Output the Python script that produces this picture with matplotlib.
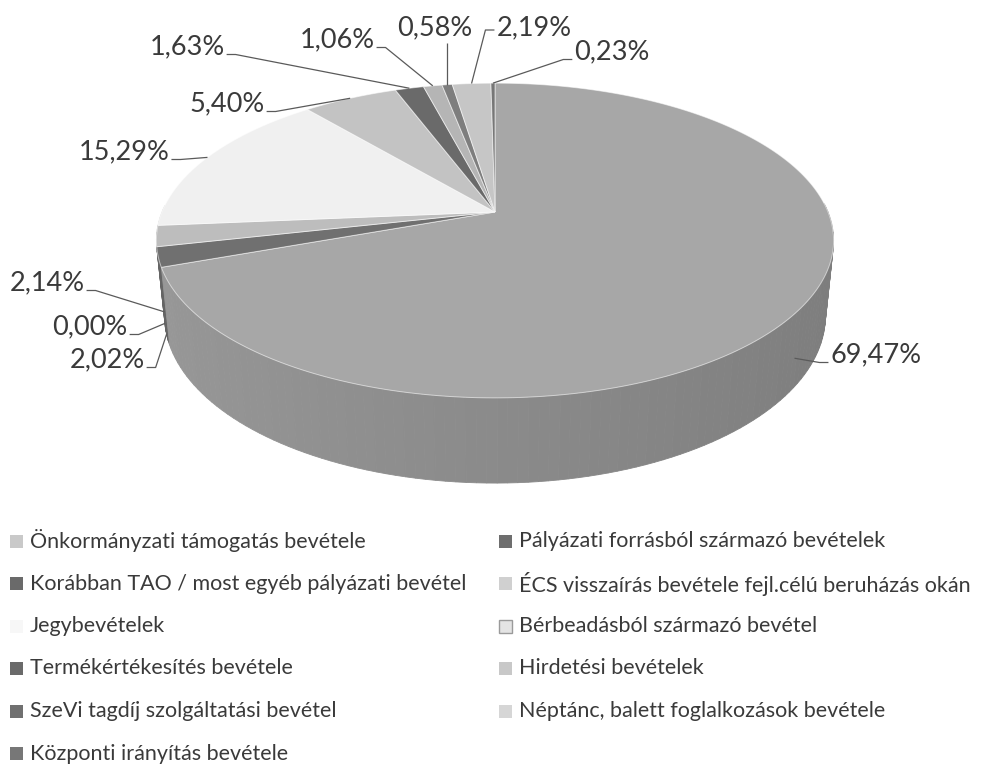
import numpy as np
import matplotlib
matplotlib.use("Agg")
import matplotlib.pyplot as plt
from matplotlib.patches import Polygon, Rectangle
from matplotlib.colors import to_rgb

plt.rcParams['font.family'] = ['Lato', 'DejaVu Sans']

# ---------------- data ----------------
categories = [
    "Önkormányzati támogatás bevétele",
    "Pályázati forrásból származó bevételek",
    "Korábban TAO / most egyéb pályázati bevétel",
    "ÉCS visszaírás bevétele fejl.célú beruházás okán",
    "Jegybevételek",
    "Bérbeadásból származó bevétel",
    "Termékértékesítés bevétele",
    "Hirdetési bevételek",
    "SzeVi tagdíj szolgáltatási bevétel",
    "Néptánc, balett foglalkozások bevétele",
    "Központi irányítás bevétele",
]
values = [69.47, 2.02, 0.00, 2.14, 15.29, 5.40, 1.63, 1.06, 0.58, 2.19, 0.23]
value_labels = ["69,47%", "2,02%", "0,00%", "2,14%", "15,29%", "5,40%",
                "1,63%", "1,06%", "0,58%", "2,19%", "0,23%"]
colors = ["#a7a7a7", "#707070", "#5c5c5c", "#bdbdbd", "#f0f0f0", "#c3c3c3",
          "#6a6a6a", "#b5b5b5", "#7e7e7e", "#c6c6c6", "#777777"]
legend_colors = ["#c9c9c9", "#6e6e6e", "#6a6a6a", "#d0d0d0", "#f7f7f7", "#e4e4e4",
                 "#6a6a6a", "#c8c8c8", "#707070", "#d6d6d6", "#777777"]

# ---------------- layout ----------------
W, H = 983, 764
fig = plt.figure(figsize=(W / 100, H / 100), dpi=100)
ax = fig.add_axes([0, 0, 1, 1])
ax.set_xlim(0, W)
ax.set_ylim(H, 0)
ax.axis("off")

# perspective projection of the 3D pie
elev = np.deg2rad(27.2)
dist = 4.91
focal = 1635.0
thick = 0.2575
cx, cy = 495.0, 212.0
se, ce = np.sin(elev), np.cos(elev)


def proj(X, Y, Z):
    yc = se * Y + ce * Z
    zc = ce * Y - se * Z + dist
    return cx + focal * X / zc, cy - focal * yc / zc, zc


vals = np.array(values)
frac = vals / vals.sum()
starts = np.concatenate([[0], np.cumsum(frac)[:-1]]) * 360.0
ends = starts + frac * 360.0


def phi(a_deg):
    return np.deg2rad(90.0 - a_deg)


def darker(c, f):
    r, g, b = to_rgb(c)
    return (r * f, g * f, b * f)


# side walls
segs = []
for i, (a0, a1) in enumerate(zip(starts, ends)):
    if a1 - a0 <= 0:
        continue
    n = max(2, int(np.ceil((a1 - a0) / 1.5)) + 1)
    angs = np.linspace(a0, a1, n)
    for k in range(n - 1):
        p0, p1 = phi(angs[k]), phi(angs[k + 1])
        pm = 0.5 * (p0 + p1)
        if np.sin(pm) > 0.05:
            continue
        pts = []
        for p, z in [(p0, 0), (p1, 0), (p1, -thick), (p0, -thick)]:
            x, y, _ = proj(np.cos(p), np.sin(p), z)
            pts.append((x, y))
        _, _, depth = proj(np.cos(pm), np.sin(pm), -thick / 2)
        shade = 0.83 - 0.08 * np.cos(pm)
        segs.append((depth, pts, darker(colors[i], shade)))

for depth, pts, col in sorted(segs, key=lambda s: -s[0]):
    ax.add_patch(Polygon(pts, closed=True, facecolor=col, edgecolor=col, lw=0.6))

# top faces
for i, (a0, a1) in enumerate(zip(starts, ends)):
    if a1 - a0 <= 0:
        continue
    n = max(2, int(np.ceil((a1 - a0) / 1.0)) + 1)
    angs = np.linspace(a0, a1, n)
    pts = [(cx, cy)]
    for a in angs:
        p = phi(a)
        x, y, _ = proj(np.cos(p), np.sin(p), 0)
        pts.append((x, y))
    ax.add_patch(Polygon(pts, closed=True, facecolor=colors[i],
                         edgecolor=(1, 1, 1, 0.55), lw=0.7))

# ---------------- data labels with leader lines ----------------
label_pos = [(876, 355), (107, 360), (90, 327), (47, 283), (124, 152), (227, 104),
             (187, 47), (337, 40), (435, 28), (534, 28), (612, 52)]
leader_side = ["left", "right", "right", "right", "right", "right",
               "right", "right", "bottom", "left", "left"]
anchor_depth = [0.6, 1.0, 1.0, 1.0, 0, 0, 0, 0, 0, 0, 0]

fig.canvas.draw()
renderer = fig.canvas.get_renderer()
inv = ax.transData.inverted()
text_color = "#3a3a3a"
line_color = "#5a5a5a"
for i in range(len(values)):
    tx, ty = label_pos[i]
    t = ax.text(tx, ty, value_labels[i], fontsize=19.5, color=text_color,
                ha="center", va="center")
    bb = t.get_window_extent(renderer).transformed(inv)
    x0, x1 = min(bb.x0, bb.x1), max(bb.x0, bb.x1)
    ybot = max(bb.y0, bb.y1)
    mid = 0.5 * (starts[i] + ends[i])
    p = phi(mid)
    axp, ayp, _ = proj(np.cos(p), np.sin(p), -thick * anchor_depth[i])
    side = leader_side[i]
    if side == "right":
        sx, sy = x1 + 2, ybot - 5
        path = [(sx, sy), (sx + 9, sy), (axp, ayp)]
    elif side == "left":
        sx, sy = x0 - 2, ybot - 5
        if i == 9:
            sy = ty + 2
        path = [(sx, sy), (sx - 9, sy), (axp, ayp)]
    else:
        path = [(axp, ybot + 2), (axp, ayp)]
    xs, ys = zip(*path)
    ax.plot(xs, ys, color=line_color, lw=0.9, solid_capstyle="butt")

# ---------------- legend ----------------
col_x = [10, 499]
text_dx = 20
row_y0, row_dy = 541, 42.5
msize = 13
for i, name in enumerate(categories):
    col = i % 2
    row = i // 2
    x = col_x[col]
    y = row_y0 + row * row_dy
    ec = "#9a9a9a" if i == 5 else "none"
    ax.add_patch(Rectangle((x, y - msize / 2), msize, msize,
                           facecolor=legend_colors[i], edgecolor=ec, lw=1))
    ax.text(x + text_dx, y, name, fontsize=15.5, color=text_color,
            ha="left", va="center")

fig.savefig("out.png", dpi=100)
